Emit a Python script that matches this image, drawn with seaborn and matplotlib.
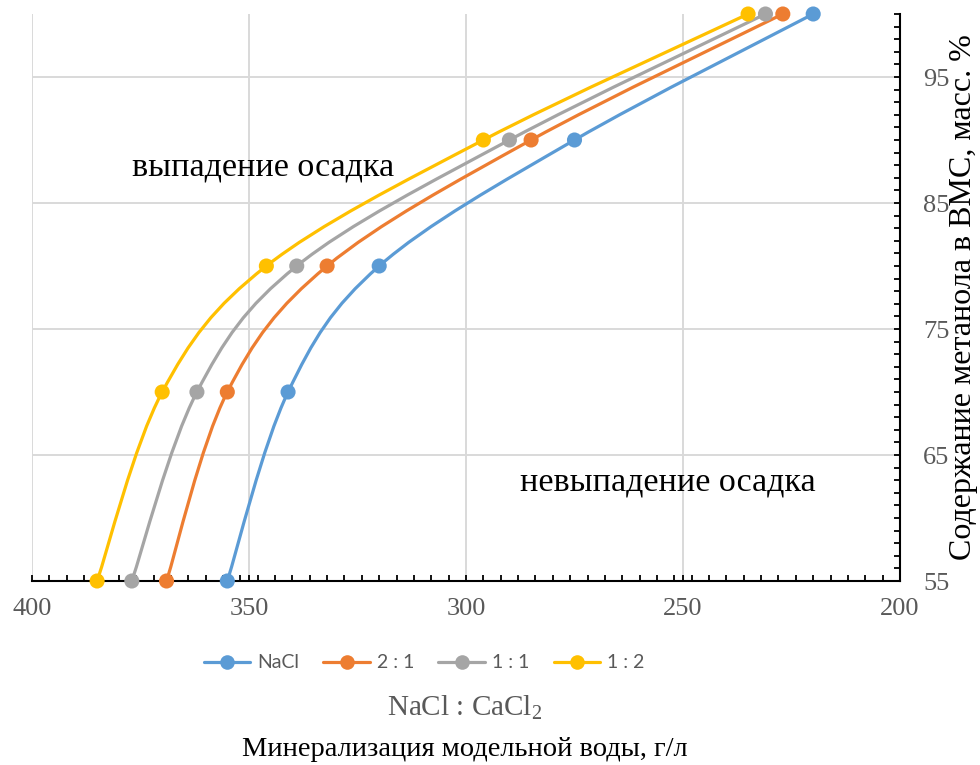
import numpy as np
import pandas as pd
import seaborn as sns
import matplotlib.pyplot as plt
from matplotlib.path import Path
from matplotlib.patches import PathPatch
from matplotlib.lines import Line2D
from matplotlib.ticker import MultipleLocator

# Methanol content (mass %) and water mineralization (g/l) for each NaCl : CaCl2 ratio
methanol = [55, 70, 80, 90, 100]
mineral_nacl = [355, 341, 320, 275, 220]
mineral_2_1 = [369, 355, 332, 285, 227]
mineral_1_1 = [377, 362, 339, 290, 231]
mineral_1_2 = [385, 370, 346, 296, 235]
series_labels = ["NaCl", "2 : 1", "1 : 1", "1 : 2"]
series_colors = ["#5B9BD5", "#ED7D31", "#A5A5A5", "#FFC000"]
x_ticks = [400, 350, 300, 250, 200]
y_ticks = [55, 65, 75, 85, 95]

series_values = [mineral_nacl, mineral_2_1, mineral_1_1, mineral_1_2]
df = pd.concat(
    [pd.DataFrame({"mineral": vals, "methanol": methanol, "series": lab})
     for vals, lab in zip(series_values, series_labels)],
    ignore_index=True,
)

sns.set_theme(style="white")
plt.rcParams["font.family"] = ["Liberation Serif", "DejaVu Serif"]
plt.rcParams["mathtext.fontset"] = "custom"
plt.rcParams["mathtext.rm"] = "Liberation Serif"

W, H = 980, 765
fig = plt.figure(figsize=(W / 100, H / 100), dpi=100)
ax = fig.add_axes([32 / W, 1 - 581 / H, (900 - 32) / W, (581 - 14) / H])

ax.set_xlim(400, 200)
ax.set_ylim(55, 100)


def smooth_path(xs, ys):
    """Cubic Bezier path through the points (Catmull-Rom style smoothing)."""
    pts = np.column_stack([xs, ys]).astype(float)
    n = len(pts)
    verts = [pts[0]]
    codes = [Path.MOVETO]
    for i in range(n - 1):
        p0 = pts[i - 1] if i > 0 else pts[i]
        p1, p2 = pts[i], pts[i + 1]
        p3 = pts[i + 2] if i + 2 < n else pts[i + 1]
        c1 = p1 + (p2 - p0) / 6.0
        c2 = p2 - (p3 - p1) / 6.0
        verts += [c1, c2, p2]
        codes += [Path.CURVE4] * 3
    return Path(verts, codes)


for lab, col in zip(series_labels, series_colors):
    sub = df[df["series"] == lab]
    patch = PathPatch(smooth_path(sub["mineral"].values, sub["methanol"].values),
                      facecolor="none", edgecolor=col, lw=2.3, zorder=3,
                      capstyle="round", joinstyle="round")
    ax.add_patch(patch)

sns.scatterplot(data=df, x="mineral", y="methanol", hue="series",
                hue_order=series_labels, palette=series_colors, s=118,
                edgecolor="none", linewidth=0, legend=False, zorder=4, ax=ax,
                clip_on=False)

# axes styling
ax.set_xlabel("")
ax.set_ylabel("")
ax.yaxis.tick_right()
for side in ["left", "top"]:
    ax.spines[side].set_visible(False)
for side in ["bottom", "right"]:
    ax.spines[side].set_color("black")
    ax.spines[side].set_linewidth(1.5)

ax.set_xticks(x_ticks)
ax.set_xticklabels([str(v) for v in x_ticks])
ax.set_yticks(y_ticks)
ax.set_yticklabels([str(v) for v in y_ticks])
ax.xaxis.set_minor_locator(MultipleLocator(4))
ax.yaxis.set_minor_locator(MultipleLocator(1))
ax.tick_params(which="both", direction="in", length=4.5, width=1.3,
               color="black", bottom=True, right=True, left=False, top=False)
ax.tick_params(axis="x", which="major", labelsize=19, labelcolor="#595959", pad=12)
ax.tick_params(axis="y", which="major", labelsize=19, labelcolor="#595959", pad=16.5)
ax.grid(True, which="major", color="#D9D9D9", lw=1.4)
ax.set_axisbelow(True)

# region labels
ax.text(377, 87.8, "выпадение осадка", fontsize=24.5, color="black",
        ha="left", va="center")
ax.text(287.6, 62.8, "невыпадение осадка", fontsize=24.5, color="black",
        ha="left", va="center")

# right-hand axis title
fig.text(963 / W, 1 - 297 / H, "Содержание метанола в ВМС, масс. %",
         rotation=90, fontsize=23, color="black", ha="center", va="center")

# legend
handles = [Line2D([], [], color=c, lw=2.3, marker="o", markersize=10.5,
                  markeredgewidth=0) for c in series_colors]
fig.legend(handles, series_labels, loc="center", ncol=4, frameon=False,
           bbox_to_anchor=(424 / W, 1 - 663 / H), handlelength=2.4,
           handletextpad=0.35, columnspacing=1.25,
           prop={"family": "Lato", "size": 14}, labelcolor="#595959")

fig.text(465 / W, 1 - 708 / H, "NaCl : CaCl$_2$", fontsize=21,
         color="#595959", ha="center", va="center")
fig.text(465 / W, 1 - 750 / H, "Минерализация модельной воды, г/л",
         fontsize=20.5, color="black", ha="center", va="center")

fig.savefig("out.png", dpi=100, facecolor="white")
